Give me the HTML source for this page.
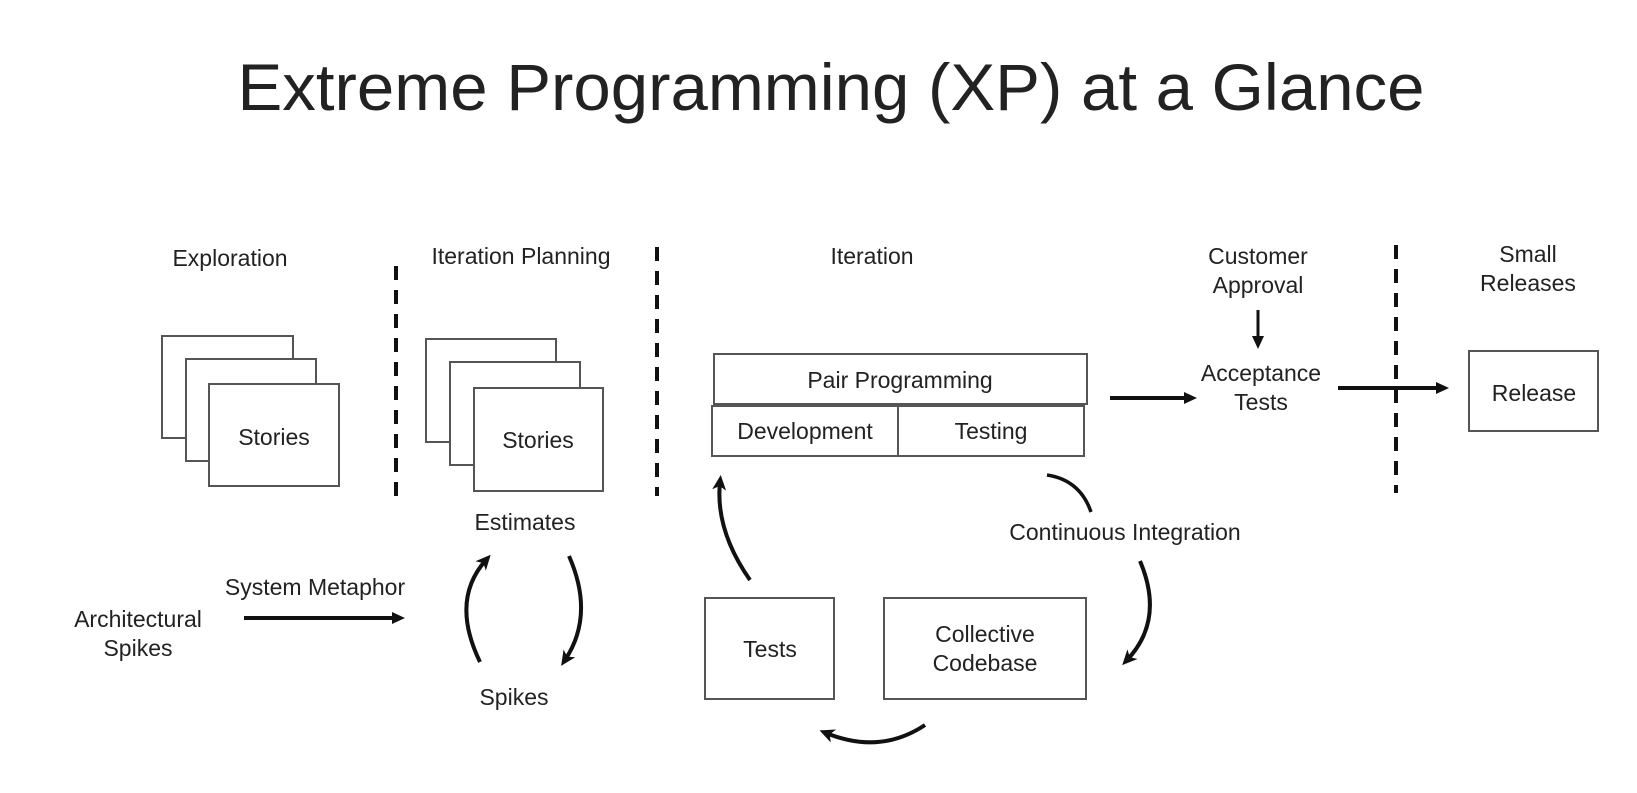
<!DOCTYPE html>
<html><head><meta charset="utf-8"><style>
html,body{margin:0;padding:0;background:#fff;}
svg{display:block;}
text{font-family:"Liberation Sans",sans-serif;fill:#222;}
</style></head><body>
<svg width="1637" height="793" viewBox="0 0 1637 793" xmlns="http://www.w3.org/2000/svg">
<defs>
<marker id="ah" markerWidth="14" markerHeight="14" refX="8" refY="7" orient="auto" markerUnits="userSpaceOnUse">
<path d="M0,1 L13,7 L0,13 z" fill="#111"/>
</marker>
<marker id="ah2" markerWidth="16" markerHeight="16" refX="8" refY="8" orient="auto" markerUnits="userSpaceOnUse">
<path d="M0,1 L15,8 L0,15 L4,8 z" fill="#111"/>
</marker>
</defs>
<text x="831" y="110" font-size="66" text-anchor="middle" textLength="1187" lengthAdjust="spacingAndGlyphs">Extreme Programming (XP) at a Glance</text>

<g font-size="23" text-anchor="middle">
<text x="230" y="266">Exploration</text>
<text x="521" y="264">Iteration Planning</text>
<text x="872" y="264">Iteration</text>
<text x="1258" y="264">Customer</text>
<text x="1258" y="293">Approval</text>
<text x="1528" y="262">Small</text>
<text x="1528" y="291">Releases</text>
</g>

<g stroke="#111" stroke-width="4" stroke-dasharray="14,10">
<line x1="396" y1="266" x2="396" y2="496"/>
<line x1="657" y1="247" x2="657" y2="496"/>
<line x1="1396" y1="245" x2="1396" y2="493"/>
</g>

<g fill="#fff" stroke="#555" stroke-width="2">
<rect x="162" y="336" width="131" height="102"/>
<rect x="186" y="359" width="130" height="102"/>
<rect x="209" y="384" width="130" height="102"/>
<rect x="426" y="339" width="130" height="103"/>
<rect x="450" y="362" width="130" height="103"/>
<rect x="474" y="388" width="129" height="103"/>
<rect x="714" y="354" width="373" height="50"/>
<rect x="712" y="406" width="186" height="50"/>
<rect x="898" y="406" width="186" height="50"/>
<rect x="1469" y="351" width="129" height="80"/>
<rect x="705" y="598" width="129" height="101"/>
<rect x="884" y="598" width="202" height="101"/>
</g>

<g font-size="23" text-anchor="middle">
<text x="274" y="445">Stories</text>
<text x="538" y="448">Stories</text>
<text x="900" y="388">Pair Programming</text>
<text x="805" y="439">Development</text>
<text x="991" y="439">Testing</text>
<text x="1534" y="401">Release</text>
<text x="770" y="657">Tests</text>
<text x="985" y="642">Collective</text>
<text x="985" y="671">Codebase</text>
<text x="525" y="530">Estimates</text>
<text x="514" y="705">Spikes</text>
<text x="315" y="595">System Metaphor</text>
<text x="138" y="627">Architectural</text>
<text x="138" y="656">Spikes</text>
<text x="1261" y="381">Acceptance</text>
<text x="1261" y="410">Tests</text>
<text x="1125" y="540">Continuous Integration</text>
</g>

<g stroke="#111" stroke-width="4" fill="none">
<line x1="244" y1="618" x2="400" y2="618" marker-end="url(#ah)"/>
<line x1="1110" y1="398" x2="1192" y2="398" marker-end="url(#ah)"/>
<line x1="1338" y1="388" x2="1444" y2="388" marker-end="url(#ah)"/>
<line x1="1258" y1="310" x2="1258" y2="344" stroke-width="3" marker-end="url(#ah)"/>
<path d="M480,662 Q450,600 486,560" marker-end="url(#ah2)"/>
<path d="M569,556 Q595,615 565,660" marker-end="url(#ah2)"/>
<path d="M750,580 Q715,530 720,482" marker-end="url(#ah2)"/>
<path d="M1047,475 Q1080,480 1091,512" stroke-width="3.5"/>
<path d="M1140,561 Q1165,620 1127,660" marker-end="url(#ah2)"/>
<path d="M925,725 Q880,755 826,733" marker-end="url(#ah2)"/>
</g>
</svg>
</body></html>
